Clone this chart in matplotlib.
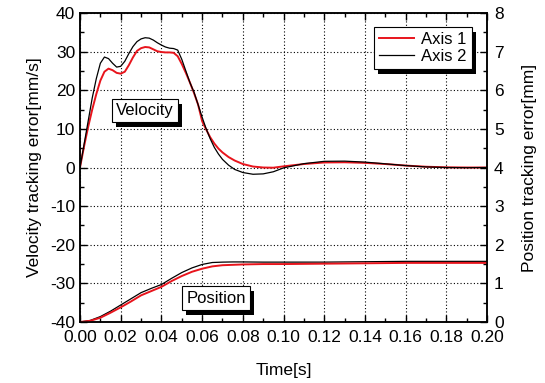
import numpy as np
import matplotlib
matplotlib.use("Agg")
import matplotlib.pyplot as plt
from matplotlib.patches import Rectangle
from matplotlib.ticker import MultipleLocator

plt.rcParams['font.family'] = ['Liberation Sans', 'DejaVu Sans']
plt.rcParams['font.size'] = 12.5
plt.rcParams['axes.unicode_minus'] = False

# velocity tracking error [mm/s]
t_vel = [0.000, 0.002, 0.004, 0.006, 0.008, 0.010, 0.012, 0.014, 0.016, 0.018,
         0.020, 0.022, 0.024, 0.026, 0.028, 0.030, 0.032, 0.034, 0.036, 0.038,
         0.040, 0.042, 0.044, 0.046, 0.048, 0.050, 0.052, 0.054, 0.056, 0.058,
         0.060, 0.062, 0.064, 0.066, 0.068, 0.070, 0.073, 0.076, 0.080, 0.085,
         0.090, 0.095, 0.100, 0.110, 0.120, 0.130, 0.140, 0.150, 0.160, 0.170,
         0.180, 0.190, 0.200]
vel_axis1 = [0, 5.5, 10.5, 15, 19, 22.5, 24.8, 25.6, 25.2, 24.5,
             24.3, 24.8, 26.5, 28.5, 30.2, 30.9, 31.2, 31.1, 30.6, 30.1,
             29.9, 29.8, 29.8, 29.7, 28.8, 26.8, 24.5, 22.0, 19.3, 16.3,
             12.0, 9.8, 7.8, 6.2, 4.9, 3.9, 2.7, 1.8, 0.9, 0.25,
             0.0, -0.05, 0.3, 0.9, 1.3, 1.35, 1.2, 0.9, 0.5, 0.2,
             0.05, 0.0, 0.0]
vel_axis2 = [0, 6, 12, 18, 23, 27, 28.6, 28.2, 27, 26,
             26.2, 27.5, 29.5, 31.3, 32.6, 33.3, 33.6, 33.5, 33.0, 32.3,
             31.7, 31.2, 30.9, 30.8, 30.4, 28.0, 25.0, 22.0, 19.5, 16.3,
             13.0, 10.0, 7.4, 5.2, 3.5, 2.1, 0.6, -0.5, -1.3, -1.75,
             -1.65, -1.1, -0.1, 1.0, 1.6, 1.65, 1.4, 0.95, 0.5, 0.15,
             0.0, -0.05, 0.0]

# position tracking error [mm]
t_pos = [0.000, 0.005, 0.010, 0.015, 0.020, 0.025, 0.030, 0.035, 0.040, 0.045,
         0.050, 0.055, 0.060, 0.065, 0.070, 0.075, 0.080, 0.090, 0.100, 0.120,
         0.140, 0.160, 0.180, 0.200]
pos_axis1 = [0, 0.03, 0.11, 0.24, 0.38, 0.53, 0.69, 0.80, 0.91, 1.06,
             1.19, 1.30, 1.38, 1.44, 1.47, 1.48, 1.49, 1.50, 1.50, 1.51,
             1.52, 1.53, 1.53, 1.53]
pos_axis2 = [0, 0.04, 0.14, 0.28, 0.44, 0.60, 0.76, 0.87, 0.97, 1.13,
             1.28, 1.40, 1.49, 1.54, 1.55, 1.555, 1.555, 1.55, 1.55, 1.55,
             1.56, 1.57, 1.57, 1.57]

fig = plt.figure(figsize=(5.45, 3.83), dpi=100)
ax = fig.add_axes([0.1468, 0.1593, 0.747, 0.8067])
ax2 = ax.twinx()

ax.plot(t_vel, vel_axis1, color='#e8141c', lw=1.4, label='Axis 1')
ax.plot(t_vel, vel_axis2, color='black', lw=0.9, label='Axis 2')
ax2.plot(t_pos, pos_axis2, color='black', lw=0.9)
ax2.plot(t_pos, pos_axis1, color='#e8141c', lw=1.4)

ax.set_xlim(0, 0.2)
ax.set_ylim(-40, 40)
ax2.set_ylim(0, 8)
ax.xaxis.set_major_locator(MultipleLocator(0.02))
ax.xaxis.set_minor_locator(MultipleLocator(0.01))
ax.yaxis.set_major_locator(MultipleLocator(10))
ax.yaxis.set_minor_locator(MultipleLocator(5))
ax2.yaxis.set_major_locator(MultipleLocator(1))
ax2.yaxis.set_minor_locator(MultipleLocator(0.5))
ax.xaxis.set_major_formatter(plt.FormatStrFormatter('%.2f'))

ax.tick_params(which='both', direction='in', top=True, right=False, width=1)
ax.tick_params(which='major', length=5)
ax.tick_params(which='minor', length=3)
ax.tick_params(axis='x', which='major', pad=6)
ax2.tick_params(which='both', direction='in', width=1)
ax2.tick_params(which='major', length=5, pad=5)
ax2.tick_params(which='minor', length=3)
for a in (ax, ax2):
    for s in a.spines.values():
        s.set_linewidth(1.1)

ax.grid(True, which='major', color='black', linestyle=(0, (1, 2)), lw=0.8)

ax.set_xlabel('Time[s]', labelpad=13)
ax.set_ylabel('Velocity tracking error[mm/s]', labelpad=6)
ax2.set_ylabel('Position tracking error[mm]', labelpad=13)

leg = ax.legend(loc='upper right', bbox_to_anchor=(0.962, 0.956), borderaxespad=0,
                fancybox=False, edgecolor='black', framealpha=1, fontsize=12,
                handlelength=2.1, borderpad=0.3, labelspacing=0.15, handletextpad=0.4)
leg.get_frame().set_linewidth(0.8)

# boxed labels
boxes = []
for label, tx, vy in [('Velocity', 0.0318, 14.7), ('Position', 0.0669, -33.8)]:
    t = ax.text(tx, vy, label, ha='center', va='center', zorder=6, fontsize=12,
                bbox=dict(boxstyle='square,pad=0.25', fc='white', ec='black', lw=0.8))
    boxes.append(t)

# dark drop shadows behind the boxes and legend
fig.canvas.draw()
dx, dy = 4, -5
extents = [t.get_bbox_patch().get_window_extent() for t in boxes]
extents.append(leg.get_frame().get_window_extent())
for bb in extents:
    ax.add_patch(Rectangle((bb.x0 + dx, bb.y0 + dy), bb.width, bb.height,
                           transform=None, fc='black', ec='none', zorder=4.5,
                           clip_on=False))

fig.savefig('out.png', dpi=100)
